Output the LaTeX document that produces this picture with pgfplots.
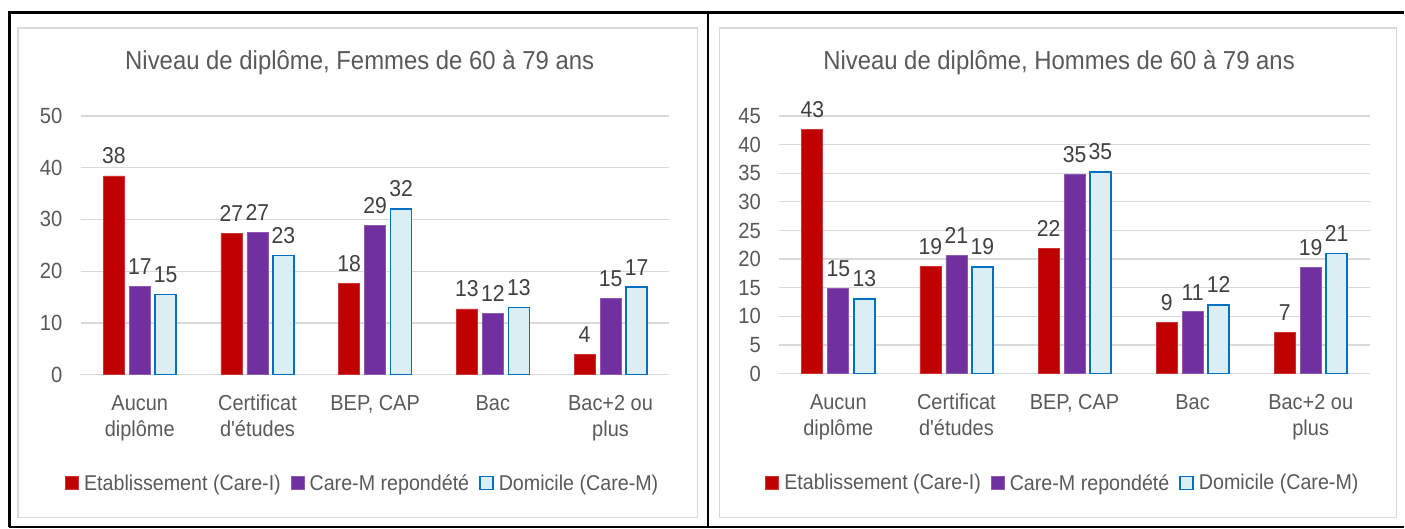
\documentclass[border=0pt]{standalone}
\usepackage{fontspec}
\setmainfont{Liberation Sans}[FakeStretch=0.92]
\newfontfamily\plain{Liberation Sans}[FakeStretch=0.92]
\usepackage{pgfplots}
\pgfplotsset{compat=1.18}

\definecolor{cred}{HTML}{C00000}
\definecolor{cpurple}{HTML}{7030A0}
\definecolor{cblue}{HTML}{0070C0}
\definecolor{clight}{HTML}{DAEEF3}
\definecolor{gridgray}{HTML}{D9D9D9}
\definecolor{txtgray}{HTML}{595959}
\definecolor{lblgray}{HTML}{404040}

\newcommand{\txt}{\fontsize{21.7bp}{26bp}\selectfont}

\pgfplotsset{
  panel/.style={
    scale only axis,
    ybar=5bp, bar width=21bp,
    xmin=-0.5, xmax=4.5, ymin=0,
    xtick={0,...,4},
    xticklabels={Aucun\\diplôme, Certificat\\d{\plain'}études, {BEP, CAP}, Bac, Bac+2 ou\\plus},
    xticklabel style={align=center, font=\txt, text=txtgray, anchor=north, yshift=-17bp},
    yticklabel style={font=\fontsize{22bp}{26bp}\selectfont, text=txtgray, xshift=-15bp},
    /pgf/number format/assume math mode=true,
    axis line style={draw=none},
    major tick length=0pt,
    ymajorgrids, grid style={color=gridgray, line width=1.3bp},
    point meta=explicit symbolic,
    nodes near coords,
    every node near coord/.append style={font=\fontsize{23bp}{26bp}\selectfont, text=lblgray, yshift=8bp},
    title style={anchor=base, font=\fontsize{26bp}{30bp}\selectfont, text=txtgray},
    legend columns=-1,
    legend style={draw=none, fill=none, font=\fontsize{21.4bp}{26bp}\selectfont, text=txtgray, anchor=center,
      /tikz/every even column/.append style={column sep=8bp}},
  },
  sq/.style={legend image code/.code={\draw[##1] (0bp,-6.5bp) rectangle (13bp,6.5bp); \path (16bp,0bp);}},
  sred/.style={fill=cred, draw=cred!80!white, line width=0.8bp, sq},
  spurple/.style={fill=cpurple, draw=cpurple!80!white, line width=0.8bp, sq},
  sblue/.style={fill=clight, draw=cblue, line width=1.6bp, sq},
}

\begin{document}
\begin{tikzpicture}
\path (0,0) rectangle (1405bp,529bp);

% panneau gauche : femmes
\begin{axis}[panel,
    at={(81bp,154bp)}, anchor=south west,
    width=589bp, height=259bp,
    ymax=50, ytick={0,10,...,50},
    title={Niveau de diplôme, Femmes de 60 à 79 ans},
    title style={at={(axis description cs:0.4737,1.158)}},
    legend style={at={(axis description cs:0.479,-0.419)}},
]
\addplot[sred] coordinates {(0,38.4)[38] (1,27.3)[27] (2,17.6)[18] (3,12.7)[13] (4,3.9)[4]};
\addplot[spurple] coordinates {(0,17.0)[17] (1,27.5)[27] (2,28.9)[29] (3,11.8)[12] (4,14.7)[15]};
\addplot[sblue] coordinates {(0,15.5)[15] (1,23.0)[23] (2,32.0)[32] (3,13.0)[13] (4,16.9)[17]};
\legend{Etablissement (Care-I), Care-M repondété, Domicile (Care-M)}
\end{axis}

% panneau droit : hommes
\begin{axis}[panel,
    at={(780bp,155bp)}, anchor=south west,
    width=591bp, height=258bp,
    ymax=45, ytick={0,5,...,45},
    title={Niveau de diplôme, Hommes de 60 à 79 ans},
    title style={at={(axis description cs:0.4738,1.155)}},
    legend style={at={(axis description cs:0.4805,-0.424)}},
]
\addplot[sred] coordinates {(0,42.7)[43] (1,18.7)[19] (2,21.9)[22] (3,8.9)[9] (4,7.2)[7]};
\addplot[spurple] coordinates {(0,14.8)[15] (1,20.6)[21] (2,34.8)[35] (3,10.8)[11] (4,18.6)[19]};
\addplot[sblue] coordinates {(0,13.0)[13] (1,18.6)[19] (2,35.2)[35] (3,12.0)[12] (4,21.0)[21]};
\legend{Etablissement (Care-I), Care-M repondété, Domicile (Care-M)}
\end{axis}

% cadres
\draw[gridgray, line width=1.5bp] (18bp,11bp) rectangle (698bp,501bp);
\draw[gridgray, line width=1.5bp] (720bp,11bp) rectangle (1398bp,501bp);
\draw[black, line width=2.6bp] (9.5bp,1.5bp) -- (9.5bp,516.5bp) -- (1405bp,516.5bp);
\draw[black, line width=2.6bp] (708.5bp,1.5bp) -- (708.5bp,516.5bp);
\draw[black, line width=2.6bp] (9.5bp,1.5bp) -- (1405bp,1.5bp);
\end{tikzpicture}
\end{document}
